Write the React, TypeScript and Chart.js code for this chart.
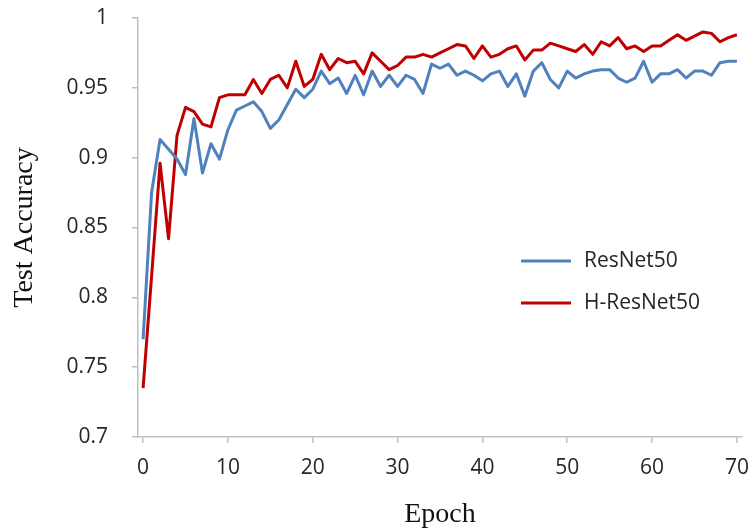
import { useEffect, useRef } from "react";
import { Chart, registerables } from "chart.js";

Chart.register(...registerables);

const epochs = [
  0, 1, 2, 3, 4, 5, 6, 7, 8, 9, 10, 11, 12, 13, 14, 15, 16, 17, 18, 19, 20,
  21, 22, 23, 24, 25, 26, 27, 28, 29, 30, 31, 32, 33, 34, 35, 36, 37, 38, 39, 40,
  41, 42, 43, 44, 45, 46, 47, 48, 49, 50, 51, 52, 53, 54, 55, 56, 57, 58, 59, 60,
  61, 62, 63, 64, 65, 66, 67, 68, 69, 70,
];

const resnet50 = [
  0.770, 0.875, 0.913, 0.906, 0.899, 0.888, 0.928, 0.889, 0.910, 0.899, 0.920,
  0.934, 0.937, 0.940, 0.933, 0.921, 0.927, 0.938, 0.949, 0.943, 0.949,
  0.962, 0.953, 0.957, 0.946, 0.959, 0.945, 0.962, 0.951, 0.959, 0.951,
  0.959, 0.956, 0.946, 0.967, 0.964, 0.967, 0.959, 0.962, 0.959, 0.955,
  0.960, 0.962, 0.951, 0.960, 0.944, 0.962, 0.968, 0.956, 0.950, 0.962,
  0.957, 0.960, 0.962, 0.963, 0.963, 0.957, 0.954, 0.957, 0.969, 0.954,
  0.960, 0.960, 0.963, 0.957, 0.962, 0.962, 0.959, 0.968, 0.969, 0.969,
];

const hResnet50 = [
  0.735, 0.815, 0.896, 0.842, 0.916, 0.936, 0.933, 0.924, 0.922, 0.943, 0.945,
  0.945, 0.945, 0.956, 0.946, 0.956, 0.959, 0.950, 0.969, 0.951, 0.956,
  0.974, 0.963, 0.971, 0.968, 0.969, 0.960, 0.975, 0.969, 0.963, 0.966,
  0.972, 0.972, 0.974, 0.972, 0.975, 0.978, 0.981, 0.980, 0.971, 0.980,
  0.972, 0.974, 0.978, 0.980, 0.970, 0.977, 0.977, 0.982, 0.980, 0.978,
  0.976, 0.981, 0.974, 0.983, 0.980, 0.986, 0.978, 0.980, 0.976, 0.980,
  0.980, 0.984, 0.988, 0.984, 0.987, 0.990, 0.989, 0.983, 0.986, 0.988,
];

const seriesLabels = ["ResNet50", "H-ResNet50"];
const xTicks = [0, 10, 20, 30, 40, 50, 60, 70];
const yTicks = [0.7, 0.75, 0.8, 0.85, 0.9, 0.95, 1];
const yTickLabels = ["0.7", "0.75", "0.8", "0.85", "0.9", "0.95", "1"];

const BLUE = "#4f81bd";
const RED = "#c00000";
const AXIS = "#bfbfbf";
const TICK_FONT = { family: "'Open Sans', sans-serif", size: 21 };
const TITLE_FONT = { family: "'Liberation Serif', serif", size: 28 };

const inlineLegend = {
  id: "inlineLegend",
  afterDraw(chart: any) {
    const ctx = chart.ctx;
    chart.data.datasets.forEach((ds: any, i: number) => {
      const y = 261 + i * 42;
      ctx.save();
      ctx.strokeStyle = ds.borderColor;
      ctx.lineWidth = 3;
      ctx.beginPath();
      ctx.moveTo(521, y);
      ctx.lineTo(571, y);
      ctx.stroke();
      ctx.fillStyle = "#262626";
      ctx.font = `${TICK_FONT.size}px ${TICK_FONT.family}`;
      ctx.textBaseline = "middle";
      ctx.textAlign = "left";
      ctx.fillText(ds.label, 584, y);
      ctx.restore();
    });
  },
};

export default function App() {
  const ref = useRef<HTMLCanvasElement | null>(null);

  useEffect(() => {
    if (!ref.current) return;
    const chart = new Chart(ref.current, {
      type: "line",
      data: {
        datasets: [
          {
            label: seriesLabels[0],
            data: epochs.map((e, i) => ({ x: e, y: resnet50[i] })),
            borderColor: BLUE,
            backgroundColor: BLUE,
            borderWidth: 3,
            pointRadius: 0,
            tension: 0,
            borderJoinStyle: "round",
          },
          {
            label: seriesLabels[1],
            data: epochs.map((e, i) => ({ x: e, y: hResnet50[i] })),
            borderColor: RED,
            backgroundColor: RED,
            borderWidth: 3,
            pointRadius: 0,
            tension: 0,
            borderJoinStyle: "round",
          },
        ],
      },
      options: {
        responsive: false,
        animation: false,
        layout: { padding: { top: 18, right: 13, left: 0, bottom: 0 } },
        plugins: {
          legend: { display: false },
          tooltip: { enabled: false },
        },
        scales: {
          x: {
            type: "linear",
            min: -0.6,
            max: 70.6,
            afterBuildTicks: (s: any) => {
              s.ticks = xTicks.map((v) => ({ value: v }));
            },
            afterFit: (s: any) => {
              s.height = 94;
              s.paddingLeft = 0;
              s.paddingRight = 0;
            },
            ticks: {
              font: TICK_FONT,
              color: "#262626",
              padding: 12,
              maxRotation: 0,
              autoSkip: false,
            },
            grid: {
              drawOnChartArea: false,
              tickLength: 6,
              color: AXIS,
              lineWidth: 1.5,
            },
            border: { color: AXIS, width: 1.5 },
            title: {
              display: true,
              text: "Epoch",
              font: TITLE_FONT,
              color: "#111",
              padding: { top: 0, bottom: 0 },
            },
          },
          y: {
            type: "linear",
            min: 0.7,
            max: 1,
            afterBuildTicks: (s: any) => {
              s.ticks = yTicks.map((v) => ({ value: v }));
            },
            afterFit: (s: any) => {
              s.width = 138;
              s.paddingTop = 0;
              s.paddingBottom = 0;
            },
            ticks: {
              font: TICK_FONT,
              color: "#262626",
              padding: 24,
              callback: (_v: any, i: number) => yTickLabels[i],
            },
            grid: {
              drawOnChartArea: false,
              tickLength: 6,
              color: AXIS,
              lineWidth: 1.5,
            },
            border: { color: AXIS, width: 1.5 },
            title: {
              display: true,
              text: "Test Accuracy",
              font: TITLE_FONT,
              color: "#111",
              padding: { top: 8, bottom: 0 },
            },
          },
        },
      },
      plugins: [inlineLegend],
    });
    return () => chart.destroy();
  }, []);

  return (
    <div style={{ position: "fixed", left: 0, top: 0, width: 755, height: 531 }}>
      <canvas ref={ref} width={755} height={531} />
    </div>
  );
}
